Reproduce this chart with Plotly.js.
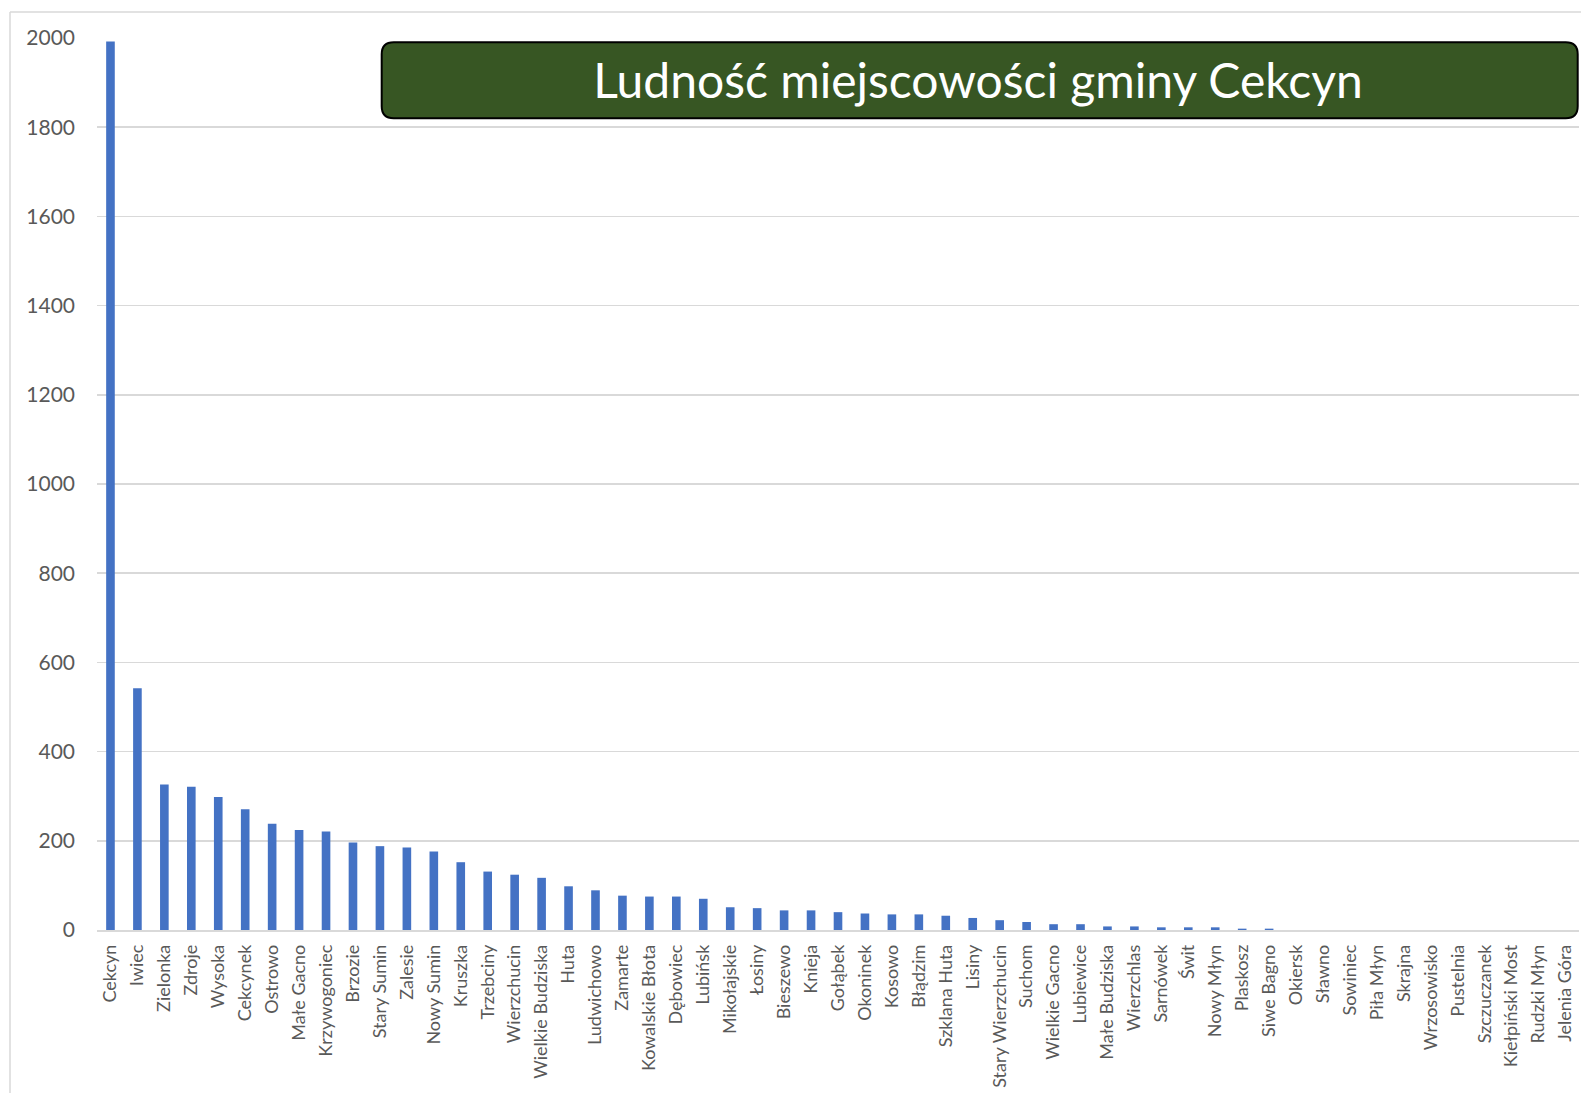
<!DOCTYPE html>
<html>
<head>
<meta charset="utf-8">
<script src="https://cdn.plot.ly/plotly-3.0.1.min.js"></script>
<style>
  html, body { margin: 0; padding: 0; background: #ffffff; }
  #chart { width: 1581px; height: 1093px; }
</style>
</head>
<body>
<div id="chart"></div>
<script>
// ---- Data ----
const chartTitle = "Ludność miejscowości gminy Cekcyn";

const villages = [
  "Cekcyn", "Iwiec", "Zielonka", "Zdroje", "Wysoka", "Cekcynek", "Ostrowo",
  "Małe Gacno", "Krzywogoniec", "Brzozie", "Stary Sumin", "Zalesie", "Nowy Sumin",
  "Kruszka", "Trzebciny", "Wierzchucin", "Wielkie Budziska", "Huta", "Ludwichowo",
  "Zamarte", "Kowalskie Błota", "Dębowiec", "Lubińsk", "Mikołajskie", "Łosiny",
  "Bieszewo", "Knieja", "Gołąbek", "Okoninek", "Kosowo", "Błądzim", "Szklana Huta",
  "Lisiny", "Stary Wierzchucin", "Suchom", "Wielkie Gacno", "Lubiewice",
  "Małe Budziska", "Wierzchlas", "Sarnówek", "Świt", "Nowy Młyn", "Plaskosz",
  "Siwe Bagno", "Okiersk", "Sławno", "Sowiniec", "Piła Młyn", "Skrajna",
  "Wrzosowisko", "Pustelnia", "Szczuczanek", "Kiełpiński Most", "Rudzki Młyn",
  "Jelenia Góra"
];

const population = [
  1992, 542, 326, 321, 298, 271, 238,
  224, 221, 196, 188, 185, 176,
  152, 131, 124, 117, 98, 89,
  77, 75, 75, 70, 51, 49,
  44, 44, 40, 37, 35, 35, 32,
  27, 22, 18, 13, 13,
  8, 8, 6, 6, 6, 3,
  3, 0, 0, 0, 0, 0,
  0, 0, 0, 0, 0,
  0
];

const yTickValues = [0, 200, 400, 600, 800, 1000, 1200, 1400, 1600, 1800, 2000];

// ---- Layout geometry (pixels) ----
const W = 1581, H = 1093;
const M = { l: 97, r: 2, t: 38, b: 163 };
const plotW = W - M.l - M.r, plotH = H - M.t - M.b;
const px = x => (x - M.l) / plotW;           // pixel x -> paper x
const py = y => (H - M.b - y) / plotH;       // pixel y -> paper y

function roundedRectPath(x0, y0, x1, y1, r) {
  const rx = r / plotW, ry = r / plotH;
  const X0 = px(x0), X1 = px(x1), Y0 = py(y0), Y1 = py(y1); // Y0 top (larger)
  return `M ${X0 + rx} ${Y0} L ${X1 - rx} ${Y0} Q ${X1} ${Y0} ${X1} ${Y0 - ry} ` +
         `L ${X1} ${Y1 + ry} Q ${X1} ${Y1} ${X1 - rx} ${Y1} ` +
         `L ${X0 + rx} ${Y1} Q ${X0} ${Y1} ${X0} ${Y1 + ry} ` +
         `L ${X0} ${Y0 - ry} Q ${X0} ${Y0} ${X0 + rx} ${Y0} Z`;
}

const FONT = "Lato, 'Liberation Sans', Arial, sans-serif";
const GRID = "#D9D9D9";

const trace = {
  type: "bar",
  x: villages,
  y: population,
  marker: { color: "#4472C4" },
  hoverinfo: "none"
};

const layout = {
  width: W,
  height: H,
  margin: M,
  paper_bgcolor: "#ffffff",
  plot_bgcolor: "#ffffff",
  showlegend: false,
  bargap: 0.68,
  font: { family: FONT, color: "#595959" },
  title: {
    text: chartTitle,
    font: { family: FONT, size: 48, color: "#ffffff" },
    xref: "container", yref: "container",
    x: 978 / W, y: 1 - 81 / H,
    xanchor: "center", yanchor: "middle"
  },
  xaxis: {
    type: "category",
    tickangle: -90,
    tickfont: { family: FONT, size: 18, color: "#595959" },
    showline: true, linecolor: GRID, linewidth: 1.5,
    showgrid: false, ticks: "", zeroline: false,
    ticklabelstandoff: 6,
    automargin: false
  },
  yaxis: {
    range: [0, 2000],
    tickvals: yTickValues,
    tickfont: { family: FONT, size: 21, color: "#595959" },
    showgrid: true, gridcolor: GRID, gridwidth: 1.5,
    zeroline: false, showline: false, ticks: "",
    ticklabelstandoff: 21,
    automargin: false
  },
  shapes: [
    // chart frame (left and top edges)
    { type: "line", xref: "paper", yref: "paper", layer: "below",
      x0: px(10), x1: px(10), y0: py(12), y1: py(H + 5),
      line: { color: GRID, width: 1.5 } },
    { type: "line", xref: "paper", yref: "paper", layer: "below",
      x0: px(10), x1: px(W + 5), y0: py(12), y1: py(12),
      line: { color: GRID, width: 1.5 } },
    // title box
    { type: "path", xref: "paper", yref: "paper", layer: "above",
      path: roundedRectPath(381.7, 42.3, 1577.7, 118.3, 12),
      fillcolor: "#375623",
      line: { color: "#000000", width: 2 } }
  ]
};

Plotly.newPlot("chart", [trace], layout, { displayModeBar: false, staticPlot: true });
</script>
</body>
</html>
